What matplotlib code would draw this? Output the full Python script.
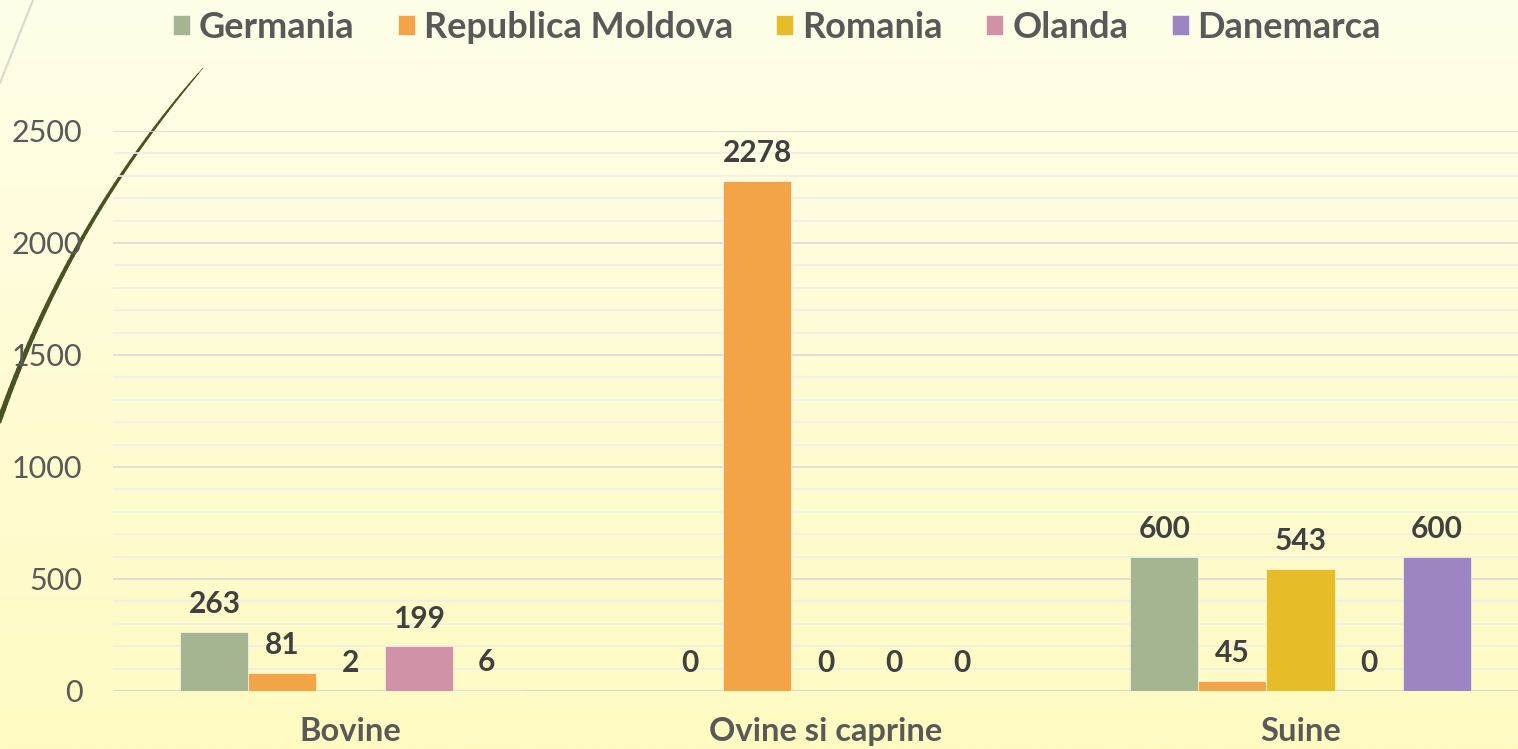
import numpy as np
import matplotlib
matplotlib.use("Agg")
import matplotlib.pyplot as plt
from matplotlib.ticker import MultipleLocator

categories = ["Bovine", "Ovine si caprine", "Suine"]
series = ["Germania", "Republica Moldova", "Romania", "Olanda", "Danemarca"]
germania = [263, 0, 600]
moldova = [81, 2278, 45]
romania = [2, 0, 543]
olanda = [199, 0, 0]
danemarca = [6, 0, 600]
values = [germania, moldova, romania, olanda, danemarca]
colors = ["#A5B592", "#F3A447", "#E6BC29", "#D092A7", "#9C85C0"]

plt.rcParams['font.family'] = ['Lato', 'DejaVu Sans']

W, H = 1518, 749
fig = plt.figure(figsize=(W / 100, H / 100), dpi=100)

# background gradient
bg = fig.add_axes([0, 0, 1, 1], zorder=-10)
top = np.array([254, 254, 232]) / 255
bot = np.array([255, 250, 193]) / 255
t = np.linspace(0, 1, 256)[:, None]
grad = top[None, :] * (1 - t) + bot[None, :] * t
bg.imshow(grad[:, None, :].repeat(2, axis=1), aspect='auto', extent=[0, W, H, 0],
          interpolation='bilinear')
bg.set_xlim(0, W)
bg.set_ylim(H, 0)
bg.axis('off')

# decorative theme curves (slide decoration, pixel coordinates)
P0 = np.array([203, 68]); C = np.array([66, 226]); P2 = np.array([-4, 430])
tt = np.linspace(0, 1, 61)
pts = ((1 - tt)[:, None] ** 2) * P0 + (2 * (1 - tt) * tt)[:, None] * C + (tt[:, None] ** 2) * P2
for i in range(len(pts) - 1):
    lw = 0.5 + 3.3 * (i / (len(pts) - 1)) ** 0.5
    bg.plot(pts[i:i + 2, 0], pts[i:i + 2, 1], color="#4A5224", lw=lw, solid_capstyle='round')
bg.plot([33, 0], [0, 83], color="#D9D9CC", lw=1.5)

ax = fig.add_axes([113 / W, 1 - 691 / H, 1425 / W, (691 - 131) / H])
ax.set_facecolor('none')

x = np.arange(len(categories))
n = len(series)
bw = 0.1432
for i, (name, vals, col) in enumerate(zip(series, values, colors)):
    pos = x + (i - (n - 1) / 2) * bw
    bars = ax.bar(pos, vals, width=bw, color=col, label=name, zorder=3,
                  edgecolor='#FFFFFF', linewidth=0.4)
    for b, v in zip(bars, vals):
        ax.annotate(f"{v}", (b.get_x() + b.get_width() / 2, v), xytext=(0, 10),
                    textcoords='offset points', ha='center', va='bottom',
                    fontsize=21.5, fontweight='bold', color='#404040', zorder=4)

ax.set_xlim(-0.5, 2.5)
ax.set_ylim(0, 2500)
ax.yaxis.set_major_locator(MultipleLocator(500))
ax.yaxis.set_minor_locator(MultipleLocator(100))
ax.grid(axis='y', which='major', color='#D9D9D9', lw=1.2, zorder=1)
ax.grid(axis='y', which='minor', color='#EEEEE8', lw=1.2, zorder=1)
ax.set_axisbelow(True)
for s in ax.spines.values():
    s.set_visible(False)
ax.axhline(0, color='#D9D9D9', lw=1.5, zorder=2)
ax.set_xticks(x)
ax.set_xticklabels(categories, fontsize=23.5, fontweight='bold', color='#595959')
ax.tick_params(axis='x', length=0, pad=19)
ax.tick_params(axis='y', which='both', length=0, pad=22, labelsize=22, labelcolor='#595959')

fig.legend(loc='center', bbox_to_anchor=(777 / W, 1 - 27 / H), ncol=5, frameon=False,
           handlelength=0.47, handleheight=0.47, handletextpad=0.25,
           columnspacing=1.2, prop={'weight': 'bold', 'size': 26},
           labelcolor='#595959')

fig.savefig("out.png", dpi=100)
